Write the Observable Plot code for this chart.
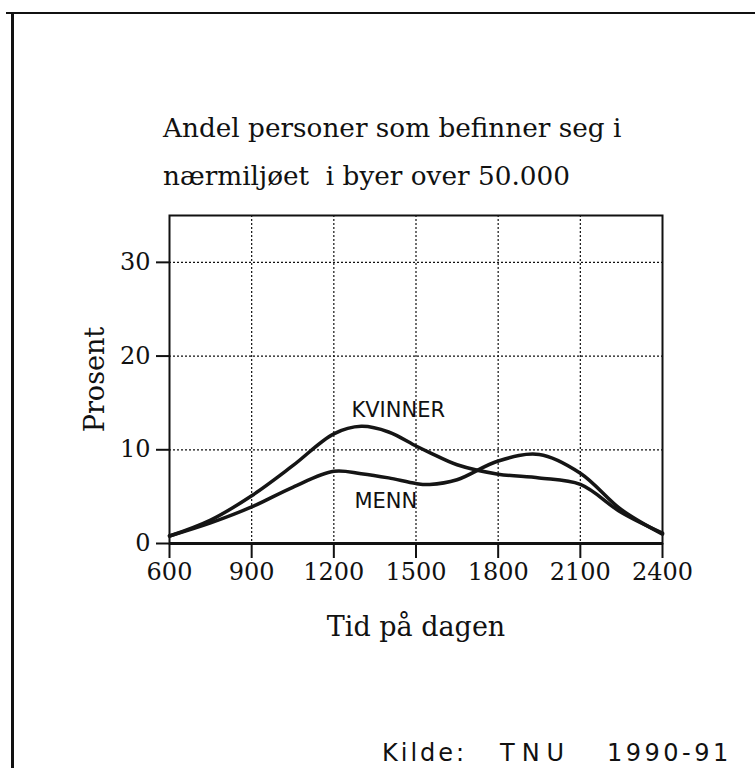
<!DOCTYPE html>
<html>
<head>
<meta charset="utf-8">
<script src="https://cdn.jsdelivr.net/npm/d3@7"></script>
<script src="https://cdn.jsdelivr.net/npm/@observablehq/plot@0.6"></script>
<style>
  html, body { margin: 0; padding: 0; background: #fff; }
  #page { position: relative; width: 755px; height: 768px; overflow: hidden; background: #fff; }
  #border-top { position: absolute; left: 6px; top: 12px; width: 749px; height: 2px; background: #111; }
  #border-left { position: absolute; left: 11px; top: 12px; width: 3px; height: 756px; background: #111; }
  #title { position: absolute; left: 163px; top: 104px; font-family: "DejaVu Serif", serif; font-size: 26.3px; line-height: 48px; color: #111; white-space: nowrap; }
  #caption { position: absolute; left: 382px; top: 741px; height: 24px; font-family: "DejaVu Sans", sans-serif; font-size: 24px; line-height: 24px; color: #111; white-space: nowrap; }
  #caption span { position: absolute; top: 0; line-height: 24px; }
  #chart { position: absolute; left: 0; top: 0; }
</style>
</head>
<body>
<div id="page">
  <div id="border-top"></div>
  <div id="border-left"></div>
  <div id="chart"></div>
  <div id="title">Andel personer som befinner seg i<br>nærmiljøet&nbsp; i byer over 50.000</div>
  <div id="caption"><span style="left:0;letter-spacing:3px">Kilde:</span><span style="left:118px;letter-spacing:7px">TNU</span><span style="left:225px;letter-spacing:3.5px">1990-91</span></div>
</div>
<script>
// Time of day (hhmm)
const hours   = [600, 750, 900, 1050, 1200, 1300, 1400, 1500, 1550, 1650, 1800, 1950, 2100, 2250, 2400];
// Percent, women (KVINNER)
const kvinner = [0.8, 2.5, 5.1, 8.3, 11.7, 12.5, 11.9, 10.4, 9.7, 8.4, 7.4, 7.0, 6.3, 3.3, 1.1];
// Percent, men (MENN)
const menn    = [0.8, 2.2, 3.9, 6.0, 7.7, 7.45, 7.0, 6.4, 6.3, 6.8, 8.8, 9.5, 7.5, 3.6, 1.0];

const xTicks = [600, 900, 1200, 1500, 1800, 2100, 2400];
const yTicks = [0, 10, 20, 30];
const xGrid = [900, 1200, 1500, 1800, 2100];
const yGrid = [10, 20, 30];

const xLabel = "Tid på dagen";
const yLabel = "Prosent";

const seriesLabels = ["KVINNER", "MENN"];
const labelX = [1435, 1390];
const labelY = [14.2, 4.5];

const rows = [];
hours.forEach((h, i) => {
  rows.push({hour: h, pct: kvinner[i], serie: "KVINNER"});
  rows.push({hour: h, pct: menn[i], serie: "MENN"});
});
const labels = seriesLabels.map((t, i) => ({t, x: labelX[i], y: labelY[i]}));

const chart = Plot.plot({
  width: 755,
  height: 768,
  marginLeft: 169,
  marginRight: 93,
  marginTop: 215,
  marginBottom: 225,
  style: {fontFamily: "DejaVu Serif, serif", fontSize: "24px", color: "#111", background: "transparent"},
  x: {domain: [600, 2400]},
  y: {domain: [0, 35]},
  marks: [
    Plot.ruleX(xGrid, {stroke: "#111", strokeWidth: 1.2, strokeDasharray: "2,2"}),
    Plot.ruleY(yGrid, {stroke: "#111", strokeWidth: 1.2, strokeDasharray: "2,2"}),
    Plot.frame({stroke: "#111", strokeWidth: 2}),
    Plot.ruleY([0], {stroke: "#111", strokeWidth: 3}),
    Plot.axisX(xTicks, {tickSize: 15, tickPadding: 4, strokeWidth: 2, tickFormat: d => String(d), fontSize: 24, label: null}),
    Plot.axisY(yTicks, {tickSize: 13, tickPadding: 6, strokeWidth: 2, tickFormat: d => String(d), fontSize: 24, label: null}),
    Plot.text([xLabel], {frameAnchor: "bottom", dy: 84, lineAnchor: "middle", fontSize: 27, fontFamily: "DejaVu Serif, serif", fill: "#111"}),
    Plot.text([yLabel], {frameAnchor: "left", dx: -74, rotate: -90, lineAnchor: "middle", textAnchor: "middle", fontSize: 27, fontFamily: "DejaVu Serif, serif", fill: "#111"}),
    Plot.line(rows, {x: "hour", y: "pct", z: "serie", curve: "catmull-rom", stroke: "#151515", strokeWidth: 3.5}),
    Plot.text(labels, {x: "x", y: "y", text: "t", fontFamily: "DejaVu Sans, sans-serif", fontSize: 21, fill: "#111"})
  ]
});
document.getElementById("chart").appendChild(chart);
</script>
</body>
</html>
